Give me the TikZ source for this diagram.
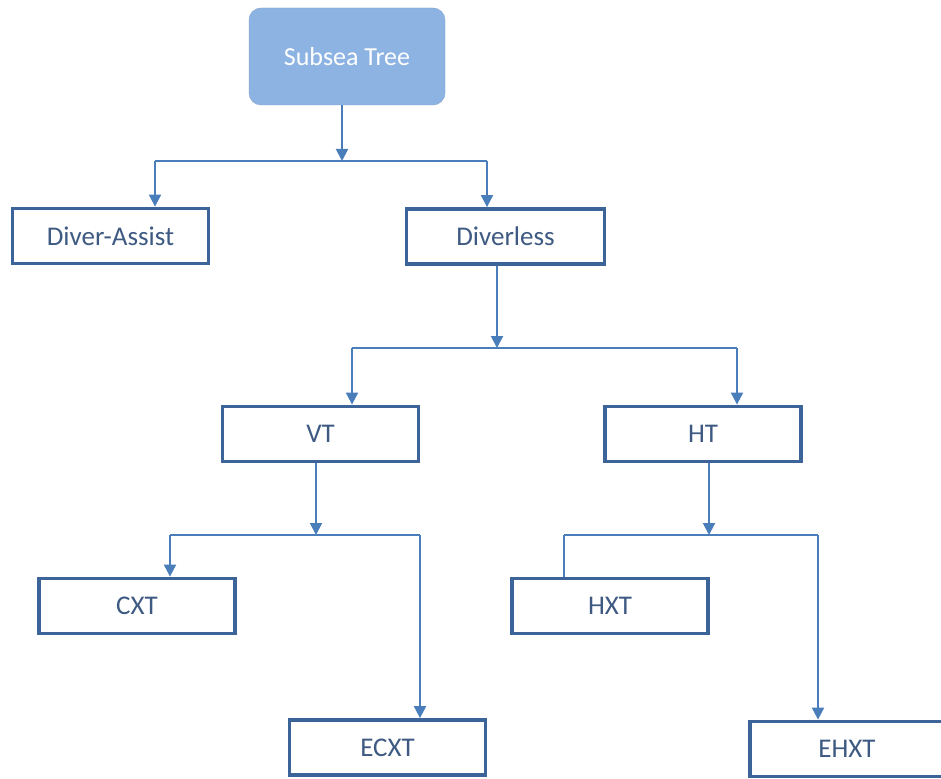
\documentclass[tikz,border=0pt]{standalone}
\usepackage{fontspec}
\setmainfont{Carlito}
\usetikzlibrary{arrows.meta}
\definecolor{boxline}{HTML}{3D6499}
\definecolor{boxtext}{HTML}{3E5A82}
\definecolor{linkblue}{HTML}{4A7EBB}
\definecolor{rootfill}{HTML}{8DB3E2}
\tikzset{
  treebox/.style={draw=boxline, line width=3.8pt, fill=white, text=boxtext,
    minimum width=196pt, minimum height=55pt, inner sep=0pt,
    font=\fontsize{27}{32}\selectfont},
  rootbox/.style={fill=rootfill, draw=rootfill!90!black, line width=0.4pt,
    rounded corners=12pt, text=white,
    minimum width=196pt, minimum height=97pt, inner sep=0pt,
    font=\fontsize{26}{31}\selectfont},
  link/.style={draw=linkblue, line width=2pt},
  linkarrow/.style={link, -{Triangle[length=12pt, width=12pt]}},
}
\begin{document}
\begin{tikzpicture}[x=1pt, y=-1pt]
  \useasboundingbox (0,0) rectangle (941,778);
  \clip (0,0) rectangle (941,778);

  % boxes
  \node[rootbox]  (sub) at (347,56.5) {Subsea Tree};
  \node[treebox]  (da)  at (110.5,236) {Diver-Assist};
  \node[treebox, minimum width=198pt] (dl) at (505.5,236.5) {Diverless};
  \node[treebox]  (vt)  at (320.5,434) {VT};
  \node[treebox]  (ht)  at (703,434) {HT};
  \node[treebox]  (cxt) at (137,606) {CXT};
  \node[treebox]  (hxt) at (610,606) {HXT};
  \node[treebox]  (ecxt) at (387.5,747.5) {ECXT};
  % this box runs past the right edge of the sheet
  \node[treebox, minimum width=210pt] (ehxt) at (855,749) {};
  \node[text=boxtext, font=\fontsize{27}{32}\selectfont] (ehxtlabel) at (847,749) {EHXT};

  % bus coordinates
  \coordinate (b1) at (342,161);
  \coordinate (b1l) at (155,161);
  \coordinate (b1r) at (487,161);
  \coordinate (b2) at (497,348);
  \coordinate (b2l) at (352,348);
  \coordinate (b2r) at (737,348);
  \coordinate (b3) at (316,535);
  \coordinate (b3l) at (170,535);
  \coordinate (b3r) at (420,535);
  \coordinate (b4) at (709,535);
  \coordinate (b4l) at (564,535);
  \coordinate (b4r) at (818,535);

  % Subsea Tree -> Diver-Assist / Diverless
  \draw[link] (b1l) -- (b1r);
  \draw[linkarrow] (sub.south -| b1) -- (b1);
  \draw[linkarrow] (b1l) -- (b1l |- da.north);
  \draw[linkarrow] (b1r) -- (b1r |- dl.north);

  % Diverless -> VT / HT
  \draw[link] (b2l) -- (b2r);
  \draw[linkarrow] (dl.south -| b2) -- (b2);
  \draw[linkarrow] (b2l) -- (b2l |- vt.north);
  \draw[linkarrow] (b2r) -- (b2r |- ht.north);

  % VT -> CXT / ECXT
  \draw[link] (b3l) -- (b3r);
  \draw[linkarrow] (vt.south -| b3) -- (b3);
  \draw[linkarrow] (b3l) -- (b3l |- cxt.north);
  \draw[linkarrow] (b3r) -- (b3r |- ecxt.north);

  % HT -> HXT / EHXT
  \draw[link] (b4l) -- (b4r);
  \draw[linkarrow] (ht.south -| b4) -- (b4);
  \draw[link] (b4l) -- (b4l |- hxt.north);
  \draw[linkarrow] (b4r) -- (b4r |- ehxt.north);
\end{tikzpicture}
\end{document}
